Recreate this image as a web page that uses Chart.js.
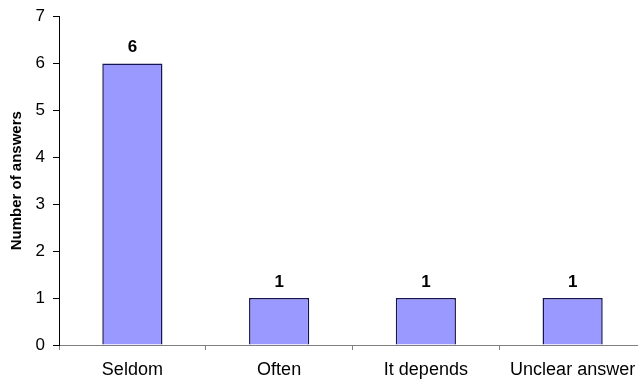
<!DOCTYPE html>
<html>
<head>
<meta charset="utf-8">
<script src="https://cdn.jsdelivr.net/npm/chart.js@4"></script>
<style>
  html, body { margin: 0; padding: 0; background: #fff; overflow: hidden; }
  #wrap { width: 646px; height: 382px; position: relative; }
</style>
</head>
<body>
<div id="wrap"><canvas id="chart"></canvas></div>
<script>
// Survey answers per category
const categories = ['Seldom', 'Often', 'It depends', 'Unclear answer'];
const answerCounts = [6, 1, 1, 1];
const yTicks = [0, 1, 2, 3, 4, 5, 6, 7];

const FONT = "'Liberation Sans', Arial, Helvetica, sans-serif";

// Writes each bar's value just above it
const valueLabels = {
  id: 'valueLabels',
  afterDatasetsDraw(chart) {
    const ctx = chart.ctx;
    const meta = chart.getDatasetMeta(0);
    ctx.save();
    ctx.font = 'bold 17px ' + FONT;
    ctx.fillStyle = '#000';
    ctx.textAlign = 'center';
    ctx.textBaseline = 'alphabetic';
    meta.data.forEach((bar, i) => {
      ctx.fillText(String(answerCounts[i]), bar.x, bar.y - 11);
    });
    ctx.restore();
  }
};

new Chart(document.getElementById('chart'), {
  type: 'bar',
  data: {
    labels: categories,
    datasets: [{
      data: answerCounts,
      backgroundColor: '#9999FF',
      borderColor: '#141450',
      borderWidth: 1.5,
      borderSkipped: 'bottom',
      barPercentage: 0.41,
      categoryPercentage: 1.0
    }]
  },
  options: {
    responsive: true,
    maintainAspectRatio: false,
    animation: false,
    layout: { padding: { top: 15, right: 0, bottom: 0, left: 0 } },
    plugins: {
      legend: { display: false },
      tooltip: { enabled: false }
    },
    scales: {
      x: {
        offset: true,
        afterFit(scale) { scale.height = 37; },
        grid: {
          offset: true,
          drawOnChartArea: false,
          drawTicks: true,
          tickLength: 5,
          color: '#808080'
        },
        border: { color: '#808080', width: 1 },
        ticks: {
          color: '#000',
          padding: 9,
          maxRotation: 0,
          autoSkip: false,
          font: { family: FONT, size: 18 }
        }
      },
      y: {
        min: 0,
        max: 7,
        afterFit(scale) { scale.width = 59; },
        afterBuildTicks(scale) { scale.ticks = yTicks.map(v => ({ value: v })); },
        grid: {
          drawOnChartArea: false,
          drawTicks: true,
          tickLength: 6,
          color: '#000'
        },
        border: { color: '#000', width: 1 },
        ticks: {
          color: '#000',
          padding: 8,
          font: { family: FONT, size: 17, lineHeight: 1.0 }
        },
        title: {
          display: true,
          text: 'Number of answers',
          color: '#000',
          padding: { top: 8, bottom: 0 },
          font: { family: FONT, size: 15, weight: 'bold' }
        }
      }
    }
  },
  plugins: [valueLabels]
});
</script>
</body>
</html>
